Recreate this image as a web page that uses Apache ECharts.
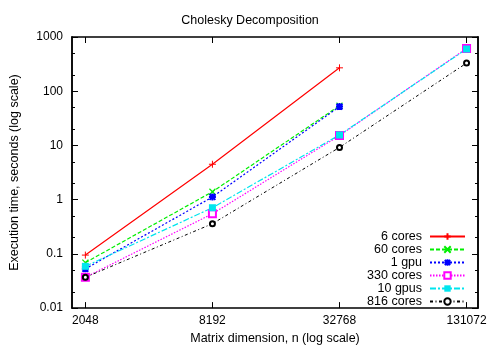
<!DOCTYPE html>
<html><head><meta charset="utf-8">
<script src="https://cdn.jsdelivr.net/npm/echarts@6/dist/echarts.min.js"></script>
<style>html,body{margin:0;padding:0;background:#fff}#c{width:500px;height:350px}</style>
</head><body><div id="c"></div>
<script>
// ---- data ----
const sizes = [2048, 8192, 32768, 131072];
const xTickLabels = ['2048', '8192', '32768', '131072'];
const yTicks = [0.01, 0.1, 1, 10, 100, 1000];
const yTickLabels = ['0.01', '0.1', '1', '10', '100', '1000'];
const seriesNames = ['6 cores', '60 cores', '1 gpu', '330 cores', '10 gpus', '816 cores'];
const cores6 = [0.095, 4.5, 270];
const cores60 = [0.069, 1.4, 54];
const gpu1 = [0.053, 1.12, 52];
const cores330 = [0.037, 0.55, 15.2, 615];
const gpus10 = [0.059, 0.71, 15.6, 600];
const cores816 = [0.037, 0.36, 9.2, 330];

// ---- chart ----
const FONT = 'Liberation Sans';
const minorY = [];
yTicks.slice(0, -1).forEach(v => { minorY.push(+(v * 2).toPrecision(6), +(v * 5).toPrecision(6)); });

function nearestLabel(v, vals, labels) {
  let best = 0, bd = Infinity;
  vals.forEach((t, i) => { const d = Math.abs(Math.log(v) - Math.log(t)); if (d < bd) { bd = d; best = i; } });
  return labels[best];
}
const axisLineStyle = { color: '#000', width: 1.5 };
function xAxis(pos, labels) {
  return {
    type: 'log', logBase: 2, min: 1770, max: 148500, position: pos,
    axisLine: { show: true, onZero: false, lineStyle: axisLineStyle },
    axisTick: { show: true, inside: true, length: 6, customValues: sizes, lineStyle: { color: '#000', width: 1 } },
    axisLabel: labels ? { show: true, customValues: sizes, formatter: v => nearestLabel(v, sizes, xTickLabels), color: '#000', fontFamily: FONT, fontSize: 12, margin: 7 } : { show: false },
    splitLine: { show: false }, minorTick: { show: false }, minorSplitLine: { show: false },
    name: labels ? 'Matrix dimension, n (log scale)' : '', nameLocation: 'middle', nameGap: 22,
    nameTextStyle: { color: '#000', fontFamily: FONT, fontSize: 12.5 }
  };
}
function yAxis(pos, ticks, len, labels) {
  return {
    type: 'log', logBase: 10, min: 0.01, max: 1000, position: pos,
    axisLine: { show: true, onZero: false, lineStyle: axisLineStyle },
    axisTick: { show: true, inside: true, length: len, customValues: ticks, lineStyle: { color: '#000', width: 1 } },
    axisLabel: labels ? { show: true, customValues: yTicks, formatter: v => nearestLabel(v, yTicks, yTickLabels), color: '#000', fontFamily: FONT, fontSize: 12, margin: 9 } : { show: false },
    splitLine: { show: false }, minorTick: { show: false }, minorSplitLine: { show: false },
    name: labels ? 'Execution time, seconds (log scale)' : '', nameLocation: 'middle', nameGap: 51,
    nameTextStyle: { color: '#000', fontFamily: FONT, fontSize: 12.5 }
  };
}
const plusPath = 'path://M0,-1L0,1M-1,0L1,0';
const crossPath = 'path://M-1,-1L1,1M-1,1L1,-1';
const starPath = 'path://M-1,-1L1,1M-1,1L1,-1M0,-1.2L0,1.2M-1.2,0L1.2,0';
const styles = [
  { color: '#ff0000', dash: 'solid', symbol: plusPath, size: 7, bw: 1, w: 1.2 },
  { color: '#00ee00', dash: [4, 2], symbol: crossPath, size: 6, bw: 1.2, w: 1.2 },
  { color: '#0000ff', dash: [2, 2], symbol: starPath, size: 7, bw: 2, w: 1.2 },
  { color: '#ff00ff', dash: [1.5, 1.5], symbol: 'emptyRect', size: 7, bw: 1, w: 1.2 },
  { color: '#00e5ee', dash: [6, 2, 2, 2], symbol: 'rect', size: 7, bw: 0, w: 1.2 },
  { color: '#000000', dash: [3, 2.5, 1, 2.5], symbol: 'emptyCircle', size: 5, bw: 1, w: 1 }
];
const dataArrs = [cores6, cores60, gpu1, cores330, gpus10, cores816];
const series = dataArrs.map((arr, k) => {
  const st = styles[k];
  return {
    name: seriesNames[k], type: 'line', xAxisIndex: 0, yAxisIndex: 0,
    data: arr.map((v, i) => [sizes[i], v]),
    symbol: st.symbol, symbolSize: st.size, showSymbol: true, showAllSymbol: true,
    lineStyle: { color: st.color, width: st.w, type: st.dash },
    itemStyle: { color: st.color, borderColor: st.color, borderWidth: st.bw },
    emphasis: { disabled: true }, animation: false
  };
});
const chart = echarts.init(document.getElementById('c'), null, { renderer: 'canvas' });
chart.setOption({
  backgroundColor: '#fff',
  animation: false,
  title: { text: 'Cholesky Decomposition', left: 'center', top: 9, textStyle: { color: '#000', fontFamily: FONT, fontSize: 12.5, fontWeight: 'normal' } },
  grid: { left: 67, right: 22, top: 37, bottom: 41, containLabel: false },
  legend: {
    orient: 'vertical', right: 34, top: 230, align: 'right', padding: 0,
    itemWidth: 35, itemHeight: 8, itemGap: 0,
    textStyle: { color: '#000', fontFamily: FONT, fontSize: 12.5, lineHeight: 12.6, padding: [0, 3, 0, 0] },
    data: seriesNames
  },
  xAxis: [xAxis('bottom', true), xAxis('top', false)],
  yAxis: [yAxis('left', yTicks, 6, true), yAxis('left', minorY, 3, false), yAxis('right', yTicks, 6, false), yAxis('right', minorY, 3, false)],
  series: series
});
</script></body></html>
